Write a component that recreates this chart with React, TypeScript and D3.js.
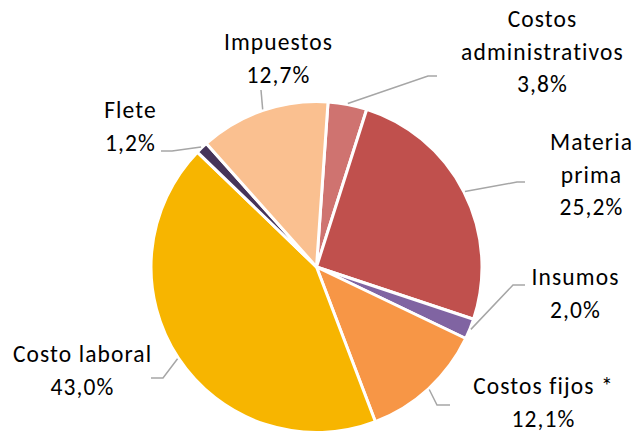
import React from "react";
import * as d3 from "d3";

const categories = ["Costos administrativos", "Materia prima", "Insumos", "Costos fijos *", "Costo laboral", "Flete", "Impuestos"];
const values = [3.8, 25.2, 2.0, 12.1, 43.0, 1.2, 12.7];
const valueLabels = ["3,8%", "25,2%", "2,0%", "12,1%", "43,0%", "1,2%", "12,7%"];
const nameLines = [["Costos", "administrativos"], ["Materia", "prima"], ["Insumos"], ["Costos fijos *"], ["Costo laboral"], ["Flete"], ["Impuestos"]];
const colors = ["#CF7370", "#C0504D", "#8064A2", "#F79646", "#F7B500", "#463459", "#FAC090"];

// label layout: text center x, first baseline y, elbow and end of leader line
const labelLayout = [
  { x: 542, y: 27, elbow: [428, 76], end: [437, 76] },
  { x: 591, y: 150, elbow: [517, 182], end: [525, 182] },
  { x: 575, y: 285, elbow: [513, 285], end: [525, 285] },
  { x: 543, y: 394, elbow: [437, 405], end: [450, 405] },
  { x: 82, y: 362, elbow: [163, 378], end: [151, 378] },
  { x: 130, y: 118, elbow: [172, 151], end: [161, 151] },
  { x: 278, y: 50, elbow: [261, 90], end: [261, 90] },
];

const W = 639, H = 433;
const cx = 316.5, cy = 267, R = 165.5;
const startDeg = 4;
const lineH = 32.5;

export default function App() {
  const pie = d3.pie<number>().sort(null).value((d) => d)
    .startAngle((startDeg * Math.PI) / 180)
    .endAngle((startDeg * Math.PI) / 180 + 2 * Math.PI);
  const arcs = pie(values);
  const arc = d3.arc<d3.PieArcDatum<number>>().innerRadius(0).outerRadius(R);
  return (
    <svg width={W} height={H} style={{ position: "absolute", left: 0, top: 0, background: "#fff" }}
      fontFamily="Calibri, Carlito, Lato, sans-serif">
      <g transform={`translate(${cx},${cy})`}>
        {arcs.map((a, i) => (
          <path key={i} d={arc(a) || ""} fill={colors[i]} stroke="#fff" strokeWidth={3} strokeLinejoin="round" />
        ))}
      </g>
      {arcs.map((a, i) => {
        const mid = (a.startAngle + a.endAngle) / 2;
        const sx = cx + (R + 1) * Math.sin(mid);
        const sy = cy - (R + 1) * Math.cos(mid);
        const L = labelLayout[i];
        return (
          <polyline key={"l" + i} points={`${sx},${sy} ${L.elbow[0]},${L.elbow[1]} ${L.end[0]},${L.end[1]}`}
            fill="none" stroke="#A6A6A6" strokeWidth={1.5} />
        );
      })}
      {categories.map((c, i) => {
        const L = labelLayout[i];
        const lines = [...nameLines[i], valueLabels[i]];
        return (
          <text key={"t" + i} x={L.x} y={L.y} textAnchor="middle" fontSize={23.5} letterSpacing={1.1} fill="#000">
            {lines.map((ln, j) => (
              <tspan key={j} x={L.x + 0.5} y={L.y + j * lineH}>{ln}</tspan>
            ))}
          </text>
        );
      })}
    </svg>
  );
}
